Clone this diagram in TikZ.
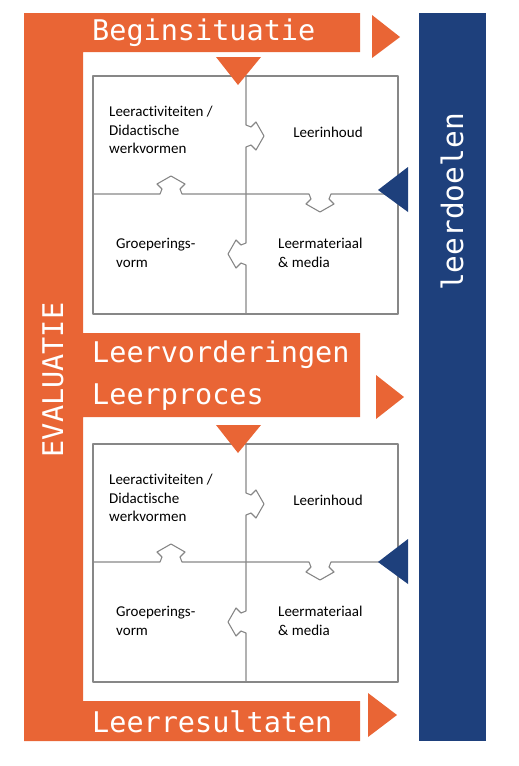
\documentclass[tikz,border=0pt]{standalone}
\usepackage{fontspec}
\setmainfont[Ligatures=NoCommon]{Carlito}
\newfontfamily\monofont{DejaVu Sans Mono}
\definecolor{evalorange}{RGB}{233,101,53}
\definecolor{doelblue}{RGB}{30,64,124}
\definecolor{piecegray}{RGB}{135,135,135}

\begin{document}
\begin{tikzpicture}[x=1pt,y=-1pt,
  banner/.style={text=white,font=\monofont\fontsize{28.5}{42}\selectfont,inner sep=0pt,align=left},
  quad/.style={font=\fontsize{15}{18.5}\selectfont,inner sep=0pt,align=left},
  piece/.style={piecegray,line width=1.1pt,line join=round}]
\useasboundingbox (0,0) rectangle (519,766);
% orange frame and blue bar
\fill[evalorange] (24,13) -- (360,13) -- (360,52) -- (83,52) -- (83,333) -- (360,333)
  -- (360,417) -- (83,417) -- (83,701) -- (360,701) -- (360,741) -- (24,741) -- cycle;
\fill[doelblue] (419,13) rectangle (486,741);
\fill[evalorange] (372,15) -- (400,37) -- (372,58) -- cycle;
\fill[evalorange] (376,375) -- (404,397) -- (376,419) -- cycle;
\fill[evalorange] (368,693) -- (397,715) -- (368,737) -- cycle;
\node[banner,anchor=west] (begin) at (92,33) {Beginsituatie};
\node[banner,anchor=west] (proces) at (92,376) {Leervorderingen\\Leerproces};
\node[banner,anchor=west] (result) at (92,722) {Leerresultaten};
\node[banner,anchor=base,rotate=90] (evaluatie) at (63,380) {EVALUATIE};
\node[banner,anchor=base,rotate=90,font=\monofont\fontsize{29.5}{36}\selectfont] (doelen) at (463,202) {leerdoelen};
% the two puzzles
\foreach \oy/\n/\ty in {0/a/190,368/b/194}{
\begin{scope}[shift={(0,\oy)}]
\draw[piece] (93,76) rectangle (398,314);
\draw[piece] (93,194) -- (160,194) -- ++(2,-5) -- ++(-5,-5) -- ++(14,-8) -- ++(14,8) -- ++(-5,5) -- ++(2,5)
  -- (309,194) -- ++(2,5) -- ++(-5,5) -- ++(14,8) -- ++(14,-8) -- ++(-5,-5) -- ++(2,-5) -- (398,194);
\draw[piece] (246,76) -- (246,125) -- ++(5,2) -- ++(5,-5) -- ++(8,14) -- ++(-8,14) -- ++(-5,-5) -- ++(-5,2)
  -- (246,243) -- ++(-5,2) -- ++(-5,-5) -- ++(-8,14) -- ++(8,14) -- ++(5,-5) -- ++(5,2) -- (246,314);
\fill[evalorange] (216,57) -- (261,57) -- (238,85) -- cycle;
\fill[doelblue] (408,\ty-23) -- (378,\ty) -- (408,\ty+22) -- cycle;
\node[quad,anchor=west] (act\n) at (109,130) {Leeractiviteiten /\\Didactische\\werkvormen};
\node[quad] (inhoud\n) at (328,132) {Leerinhoud};
\node[quad,anchor=west] (groep\n) at (116,253) {Groeperings-\\vorm};
\node[quad,anchor=west] (materiaal\n) at (278,253) {Leermateriaal\\\& media};
\end{scope}}
\end{tikzpicture}
\end{document}
